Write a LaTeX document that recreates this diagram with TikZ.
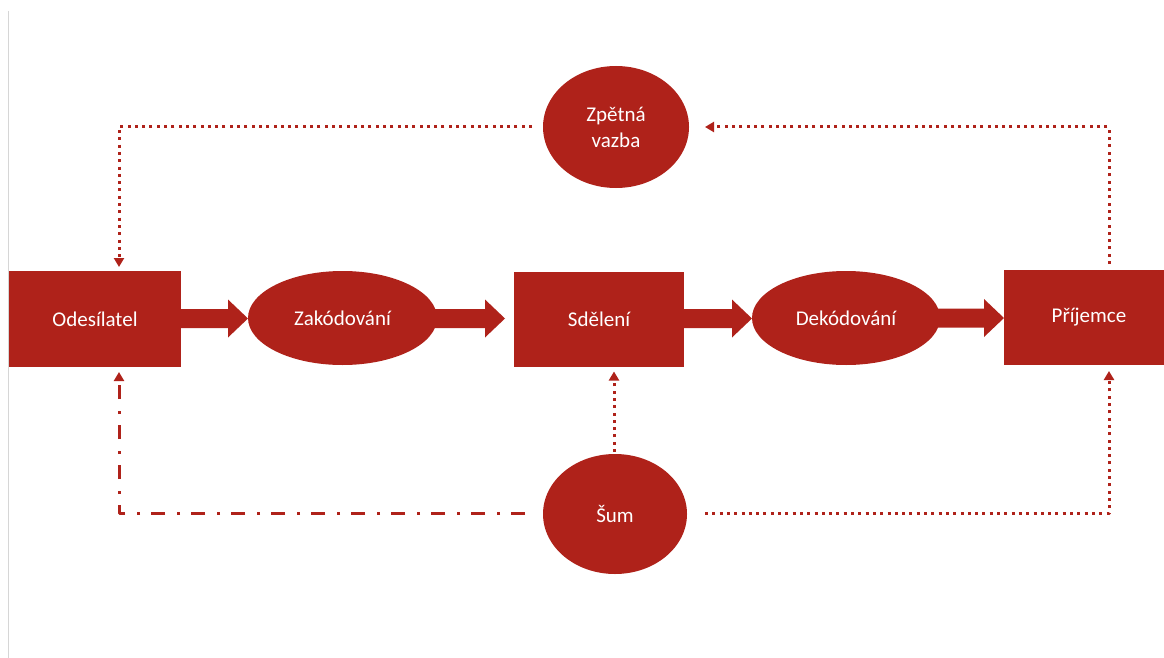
\documentclass[tikz,border=0pt]{standalone}
\usepackage{fontspec}
\setmainfont{Carlito}
\usetikzlibrary{shapes.geometric,arrows.meta,calc}
\definecolor{dred}{RGB}{175,34,26}
\definecolor{lgray}{RGB}{214,214,214}
\tikzset{
  box/.style={rectangle,fill=dred,text=white,inner sep=0pt,outer sep=0pt,font=\fontsize{21}{26}\selectfont,align=center},
  oval/.style={ellipse,fill=dred,text=white,inner sep=0pt,outer sep=0pt,font=\fontsize{21}{26}\selectfont,align=center},
  dotline/.style={draw=dred,line width=3pt,dash pattern=on 3pt off 4.3pt,line join=round,-{Triangle[width=10pt,length=9pt]}},
  dashdotline/.style={draw=dred,line width=3pt,dash pattern=on 14pt off 11pt on 3pt off 12pt,line join=round,-{Triangle[width=10pt,length=9pt]}},
}
\newcommand\blockarr[2]{%
  \fill[dred] let \p1=(#1), \p2=(#2) in
    (\x1,\y1+9.5pt) -- (\x2-20pt,\y1+9.5pt) -- (\x2-20pt,\y1+19pt) -- (\x2,\y1)
    -- (\x2-20pt,\y1-19pt) -- (\x2-20pt,\y1-9.5pt) -- (\x1,\y1-9.5pt) -- cycle;}
\begin{document}
\begin{tikzpicture}[x=1pt,y=-1pt]
\useasboundingbox (0,0) rectangle (1164,658);
\clip (0,0) rectangle (1164,658);
\draw[lgray,line width=1pt] (8.5,11) -- (8.5,658);
% nodes
\node[box,minimum width=172pt,minimum height=96pt] (od) at (95,319) {Odesílatel};
\node[oval,minimum width=189pt,minimum height=94pt] (zak) at (342.5,318) {Zakódování};
\node[box,minimum width=170pt,minimum height=95pt] (sd) at (599,319) {Sdělení};
\node[oval,minimum width=188pt,minimum height=94pt] (dek) at (846,318) {Dekódování};
\node[box,minimum width=170pt,minimum height=95pt] (pr) at (1089,317.5) {Příjemce};
\node[oval,minimum width=146pt,minimum height=122pt] (zv) at (616,127) {Zpětná\\vazba};
\node[oval,minimum width=144pt,minimum height=120pt] (sum) at (615,514) {Šum};
% block arrows
\blockarr{$(od.east)+(0,-0.5)$}{$(zak.west)+(0,0.5)$}
\blockarr{$(zak.east)+(-3,0.5)$}{$(sd.west)+(-9,0)$}
\blockarr{$(sd.east)+(0,-0.5)$}{$(dek.west)$}
\blockarr{$(dek.east)+(-2,0)$}{$(pr.west)$}
% feedback
\draw[dotline] ($(zv.west)+(-11,0)$) -| ($(od.north)+(24,-4)$);
\draw[dotline] ($(pr.north)+(20,-6)$) |- ($(zv.east)+(16,0)$);
% noise
\draw[dotline] ($(sum.north)+(-1,-2)$) -- ($(sum.north |- sd.south)+(-1,5)$);
\draw[dotline] ($(sum.east)+(18,-1)$) -| ($(pr.south)+(20,6)$);
\draw[dashdotline] ($(sum.west)+(-18,-1)$) -| ($(od.south)+(24,5)$);
\end{tikzpicture}
\end{document}
